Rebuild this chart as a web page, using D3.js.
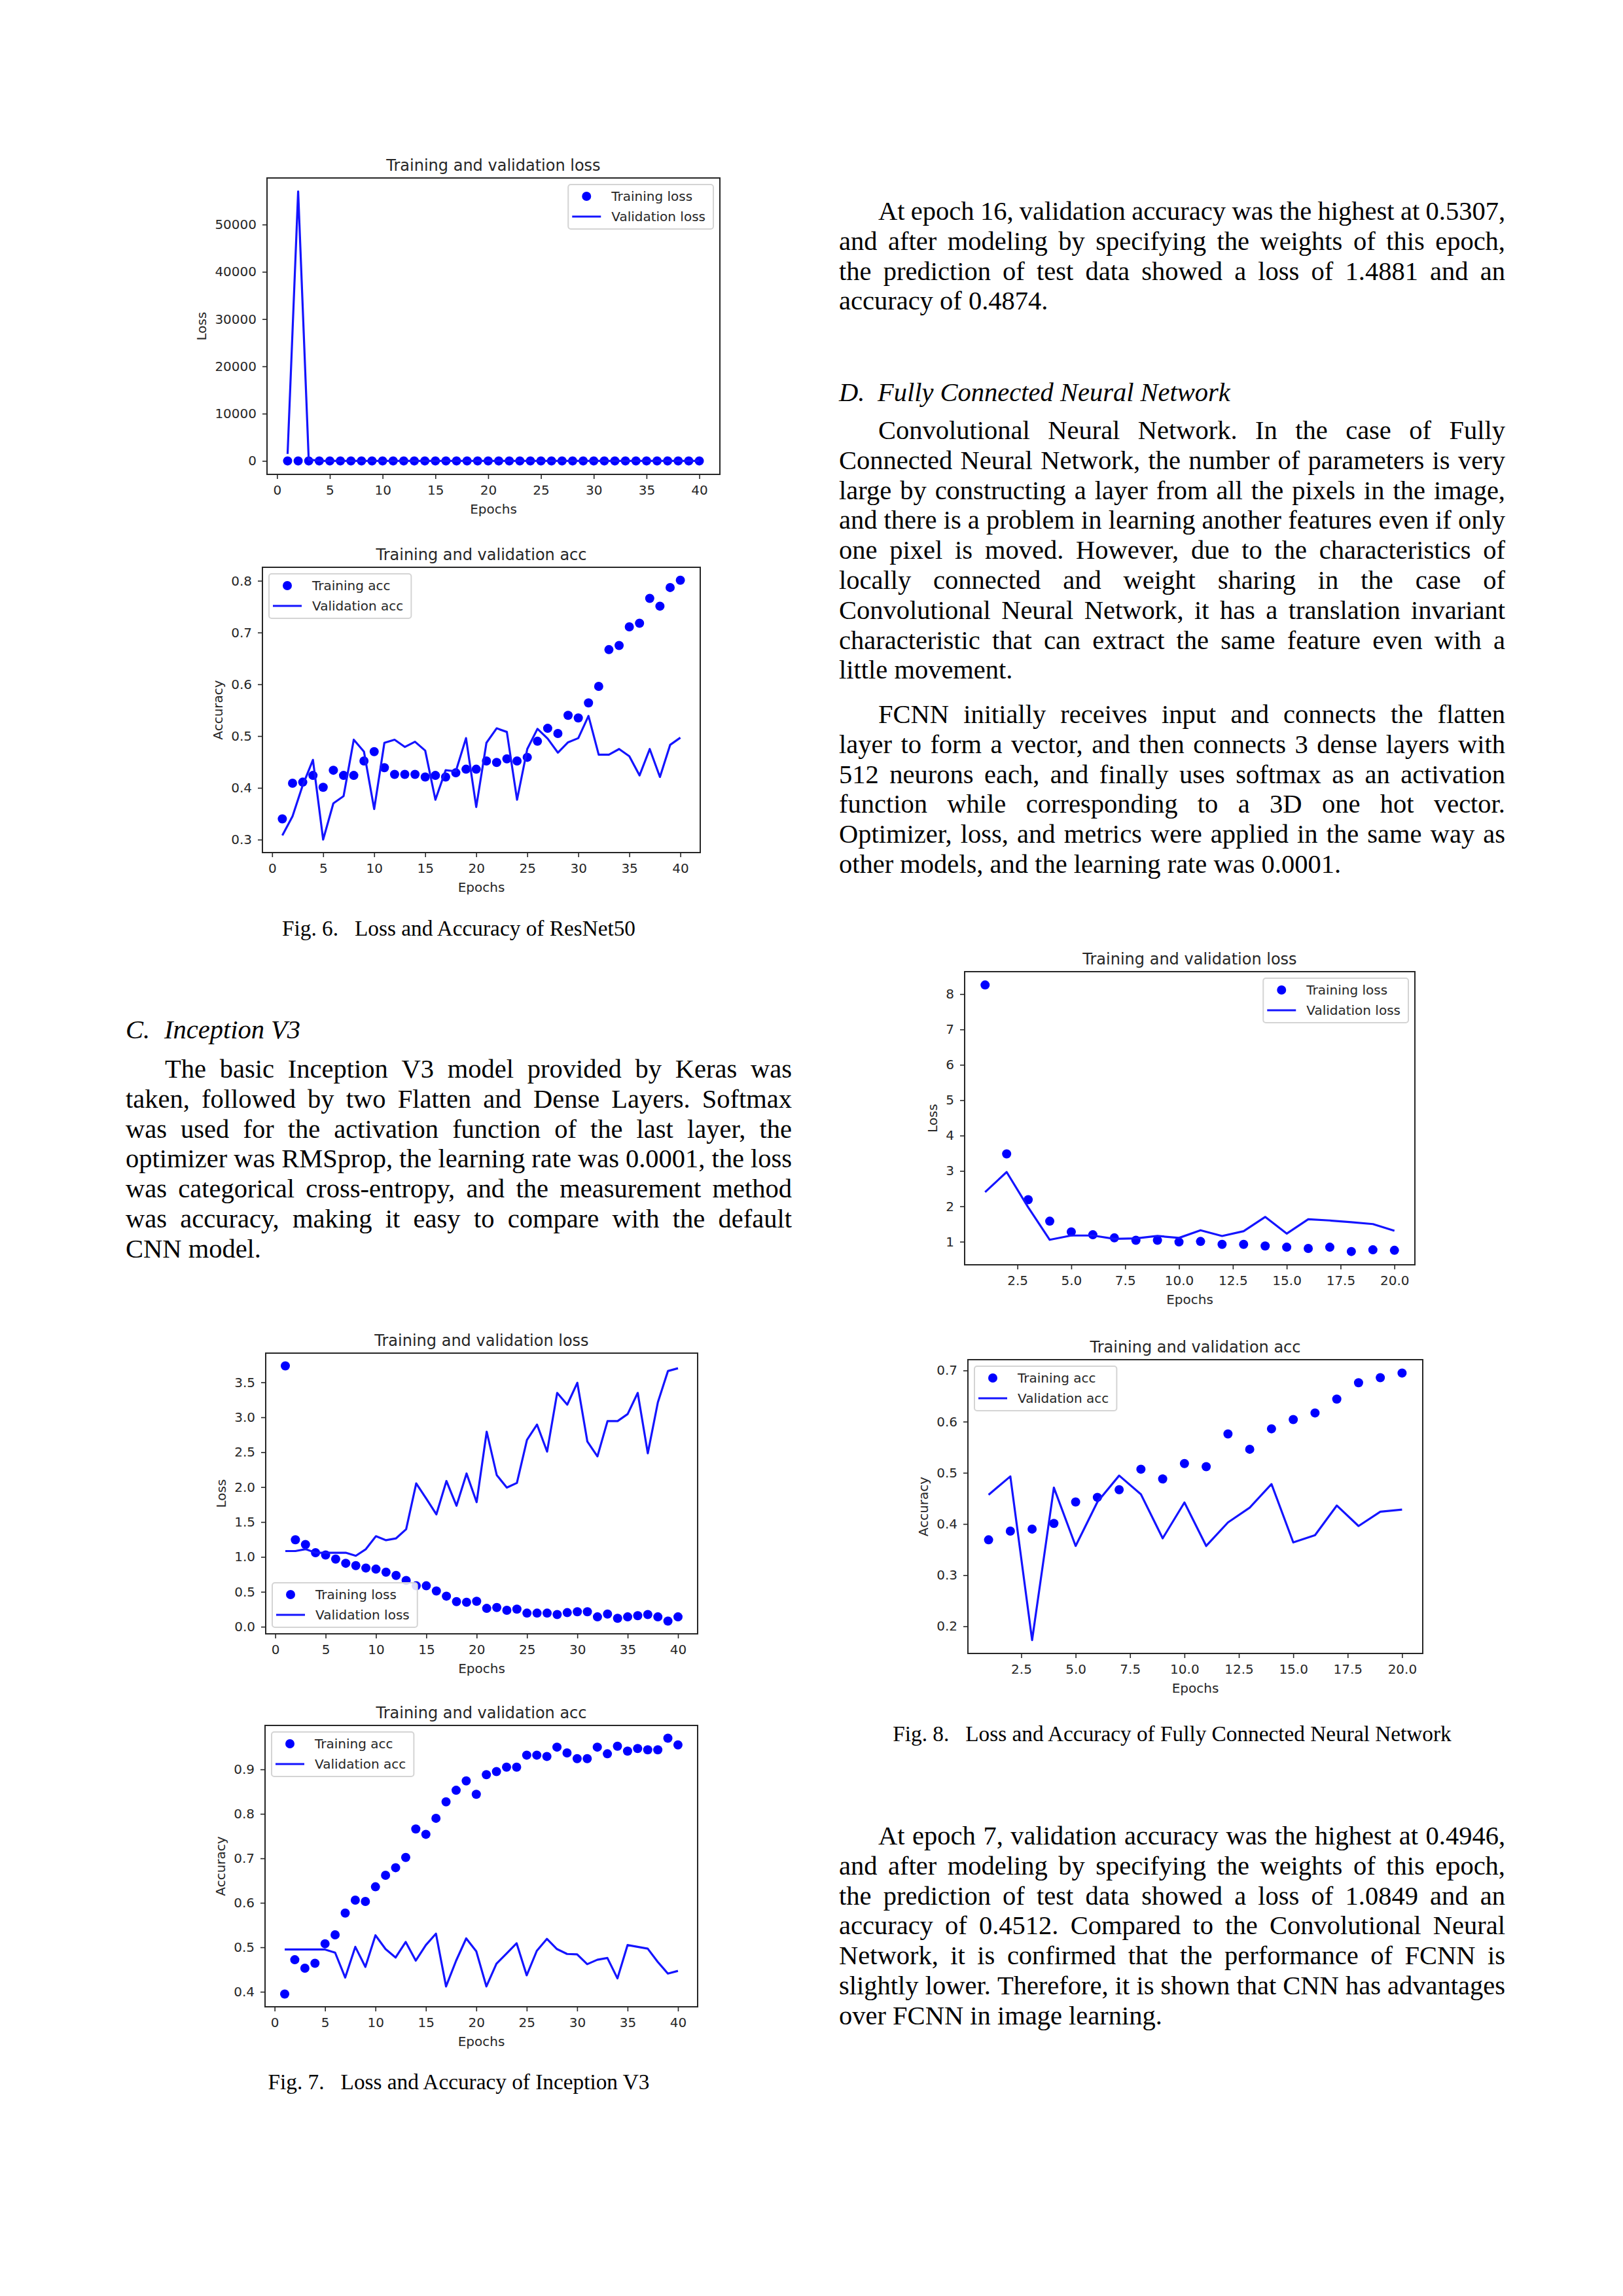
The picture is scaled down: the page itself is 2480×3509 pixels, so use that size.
<!DOCTYPE html>
<html><head><meta charset="utf-8">
<script src="https://cdn.jsdelivr.net/npm/d3@7"></script>
<style>body{margin:0;background:#fff}</style>
</head><body>
<svg id="page" width="2480" height="3509" xmlns="http://www.w3.org/2000/svg"></svg>
<script>
// ---------------- DATA ----------------
const epochs40 = [1,2,3,4,5,6,7,8,9,10,11,12,13,14,15,16,17,18,19,20,21,22,23,24,25,26,27,28,29,30,31,32,33,34,35,36,37,38,39,40];
const epochs20 = [1,2,3,4,5,6,7,8,9,10,11,12,13,14,15,16,17,18,19,20];

// Fig. 6 ResNet50
const resnetLossTrain = [1.52,1.21,1.12,1.09,1.07,1.06,1.05,1.05,1.04,1.03,1.04,1.03,1.03,1.02,1.02,1.01,1.02,1.01,1.00,1.00,0.99,0.99,0.98,0.98,0.97,0.96,0.95,0.94,0.93,0.91,0.89,0.86,0.80,0.78,0.74,0.71,0.66,0.65,0.60,0.56];
const resnetLossVal = [1480,57000,310,1.45,1.31,1.62,1.28,1.12,1.20,1.70,1.10,1.08,1.11,1.09,1.13,1.52,1.18,1.20,1.09,1.65,1.11,1.05,1.07,1.60,1.10,1.04,1.07,1.12,1.08,1.06,1.02,1.15,1.17,1.16,1.22,1.30,1.25,1.40,1.28,1.26];
const resnetAccTrain = [0.340,0.409,0.411,0.424,0.401,0.434,0.424,0.424,0.452,0.470,0.439,0.426,0.426,0.426,0.421,0.424,0.421,0.429,0.436,0.436,0.452,0.449,0.456,0.452,0.459,0.490,0.515,0.505,0.540,0.535,0.564,0.596,0.667,0.675,0.711,0.718,0.766,0.751,0.787,0.801];
const resnetAccVal = [0.308,0.345,0.405,0.454,0.300,0.370,0.384,0.493,0.470,0.359,0.487,0.493,0.479,0.489,0.472,0.377,0.434,0.432,0.496,0.363,0.487,0.515,0.508,0.377,0.475,0.514,0.495,0.468,0.488,0.496,0.539,0.464,0.464,0.475,0.461,0.424,0.475,0.421,0.483,0.497];

// Fig. 7 Inception V3
const inceptionLossTrain = [3.736,1.245,1.178,1.060,1.027,0.969,0.909,0.875,0.841,0.825,0.781,0.734,0.663,0.586,0.586,0.512,0.438,0.360,0.350,0.364,0.263,0.276,0.236,0.252,0.195,0.195,0.195,0.175,0.202,0.215,0.215,0.141,0.182,0.121,0.141,0.158,0.175,0.141,0.081,0.141];
const inceptionLossVal = [1.084,1.084,1.111,1.060,1.060,1.060,1.060,1.016,1.111,1.296,1.239,1.266,1.397,2.053,1.834,1.609,2.087,1.733,2.195,1.784,2.794,2.171,1.993,2.060,2.676,2.895,2.508,3.349,3.181,3.494,2.652,2.440,2.945,2.945,3.046,3.349,2.484,3.214,3.662,3.702];
const inceptionAccTrain = [0.395,0.472,0.453,0.464,0.508,0.528,0.577,0.606,0.603,0.636,0.662,0.679,0.702,0.766,0.754,0.790,0.827,0.853,0.874,0.844,0.888,0.895,0.905,0.905,0.932,0.932,0.929,0.950,0.937,0.924,0.924,0.950,0.935,0.952,0.941,0.947,0.944,0.944,0.970,0.955];
const inceptionAccVal = [0.495,0.495,0.495,0.495,0.495,0.488,0.432,0.501,0.456,0.527,0.496,0.477,0.512,0.470,0.505,0.5307,0.412,0.470,0.520,0.491,0.412,0.463,0.486,0.509,0.437,0.492,0.519,0.496,0.485,0.484,0.462,0.472,0.476,0.430,0.505,0.501,0.497,0.467,0.441,0.447];

// Fig. 8 FCNN
const fcnnLossTrain = [8.256,3.481,2.187,1.580,1.276,1.196,1.108,1.040,1.040,0.993,1.007,0.926,0.926,0.879,0.845,0.811,0.845,0.724,0.771,0.757];
const fcnnLossVal = [2.403,2.969,1.971,1.054,1.175,1.175,1.081,1.094,1.162,1.108,1.324,1.162,1.297,1.701,1.229,1.634,1.600,1.553,1.499,1.310];
const fcnnAccTrain = [0.369,0.386,0.390,0.401,0.443,0.452,0.467,0.507,0.488,0.518,0.512,0.576,0.546,0.586,0.604,0.617,0.644,0.676,0.686,0.695];
const fcnnAccVal = [0.457,0.493,0.173,0.471,0.357,0.443,0.4946,0.458,0.372,0.442,0.357,0.403,0.432,0.478,0.364,0.378,0.436,0.396,0.424,0.428];

// Tick labels
const xTicks40 = [0,5,10,15,20,25,30,35,40];
const xTicks20 = [2.5,5.0,7.5,10.0,12.5,15.0,17.5,20.0];
const yTicksResnetLoss = [0,10000,20000,30000,40000,50000];
const yTicksResnetAcc = [0.3,0.4,0.5,0.6,0.7,0.8];
const yTicksInceptionLoss = [0.0,0.5,1.0,1.5,2.0,2.5,3.0,3.5];
const yTicksInceptionAcc = [0.4,0.5,0.6,0.7,0.8,0.9];
const yTicksFcnnLoss = [1,2,3,4,5,6,7,8];
const yTicksFcnnAcc = [0.2,0.3,0.4,0.5,0.6,0.7];

const lossLabels = ["Training loss","Validation loss"];
const accLabels = ["Training acc","Validation acc"];

// ---------------- TEXT ----------------
const paraResnetResult = [
 "At epoch 16, validation accuracy was the highest at 0.5307,",
 "and after modeling by specifying the weights of this epoch,",
 "the prediction of test data showed a loss of 1.4881 and an",
 "accuracy of 0.4874."];
const paraFcnn1 = [
 "Convolutional Neural Network. In the case of Fully",
 "Connected Neural Network, the number of parameters is very",
 "large by constructing a layer from all the pixels in the image,",
 "and there is a problem in learning another features even if only",
 "one pixel is moved. However, due to the characteristics of",
 "locally connected and weight sharing in the case of",
 "Convolutional Neural Network, it has a translation invariant",
 "characteristic that can extract the same feature even with a",
 "little movement."];
const paraFcnn2 = [
 "FCNN initially receives input and connects the flatten",
 "layer to form a vector, and then connects 3 dense layers with",
 "512 neurons each, and finally uses softmax as an activation",
 "function while corresponding to a 3D one hot vector.",
 "Optimizer, loss, and metrics were applied in the same way as",
 "other models, and the learning rate was 0.0001."];
const paraInception = [
 "The basic Inception V3 model provided by Keras was",
 "taken, followed by two Flatten and Dense Layers. Softmax",
 "was used for the activation function of the last layer, the",
 "optimizer was RMSprop, the learning rate was 0.0001, the loss",
 "was categorical cross-entropy, and the measurement method",
 "was accuracy, making it easy to compare with the default",
 "CNN model."];
const paraFcnnResult = [
 "At epoch 7, validation accuracy was the highest at 0.4946,",
 "and after modeling by specifying the weights of this epoch,",
 "the prediction of test data showed a loss of 1.0849 and an",
 "accuracy of 0.4512. Compared to the Convolutional Neural",
 "Network, it is confirmed that the performance of FCNN is",
 "slightly lower. Therefore, it is shown that CNN has advantages",
 "over FCNN in image learning."];

// ---------------- DRAW ----------------
const svg = d3.select("#page");
svg.append("rect").attr("width",2480).attr("height",3509).attr("fill","#fff");

const SERIF = "'Liberation Serif','Times New Roman',serif";
const SANS = "'DejaVu Sans',sans-serif";
const BODY = 40.5;

function measure(str, font, size, italic) {
  const t = svg.append("text").attr("font-family", font).attr("font-size", size)
    .attr("font-style", italic ? "italic" : "normal").text(str);
  const w = t.node().getComputedTextLength();
  t.remove();
  return w;
}

function paragraph(lines, x, width, indent, y0, lh) {
  const spaceW = measure("a a", SERIF, BODY) - measure("aa", SERIF, BODY);
  lines.forEach((line, i) => {
    const isLast = i === lines.length - 1;
    const lx = x + (i === 0 ? indent : 0);
    const w = width - (i === 0 ? indent : 0);
    const words = line.split(" ");
    const t = svg.append("text").attr("font-family", SERIF).attr("font-size", BODY)
      .attr("fill", "#000").attr("y", y0 + i * lh);
    const spans = words.map(wd => t.append("tspan").text(wd));
    const widths = spans.map(s => s.node().getComputedTextLength());
    const total = d3.sum(widths);
    const gap = (isLast || words.length < 2) ? spaceW : (w - total) / (words.length - 1);
    let cx = lx;
    spans.forEach((s, k) => { s.attr("x", cx); cx += widths[k] + gap; });
  });
}

function heading(label, title, x, y) {
  svg.append("text").attr("x", x).attr("y", y).attr("font-family", SERIF)
    .attr("font-size", BODY).attr("font-style", "italic").text(label);
  svg.append("text").attr("x", x + 59).attr("y", y).attr("font-family", SERIF)
    .attr("font-size", BODY).attr("font-style", "italic").text(title);
}

function caption(txt, cx, y) {
  svg.append("text").attr("x", cx).attr("y", y).attr("text-anchor", "middle")
    .attr("font-family", SERIF).attr("font-size", 33.3).attr("fill", "#000")
    .attr("xml:space", "preserve").text(txt);
}

function chart(cfg) {
  const {x0, x1, y0, y1, epochs, train, val, title, ylabel, xticks, yticks, xfmt, yfmt, legend, labels} = cfg;
  const g = svg.append("g");
  const emin = d3.min(epochs), emax = d3.max(epochs), es = emax - emin;
  const all = train.concat(val);
  const vmin = d3.min(all), vmax = d3.max(all), vr = vmax - vmin;
  const xs = d3.scaleLinear().domain([emin - 0.05 * es, emax + 0.05 * es]).range([x0, x1]);
  const ys = d3.scaleLinear().domain([vmin - 0.05 * vr, vmax + 0.05 * vr]).range([y1, y0]);

  // training dots
  g.append("g").selectAll("circle").data(epochs).join("circle")
    .attr("cx", (d) => xs(d)).attr("cy", (d, i) => ys(train[i])).attr("r", 7).attr("fill", "#0000ff");
  // validation line
  g.append("path").datum(epochs)
    .attr("d", d3.line().x(d => xs(d)).y((d, i) => ys(val[i])))
    .attr("fill", "none").attr("stroke", "#1414ff").attr("stroke-width", 3.2)
    .attr("stroke-linejoin", "round");

  // frame
  g.append("rect").attr("x", x0).attr("y", y0).attr("width", x1 - x0).attr("height", y1 - y0)
    .attr("fill", "none").attr("stroke", "#262626").attr("stroke-width", 2);

  const xa = g.append("g").attr("transform", `translate(0,${y1})`)
    .call(d3.axisBottom(xs).tickValues(xticks).tickFormat(xfmt).tickSize(7).tickPadding(10));
  const ya = g.append("g").attr("transform", `translate(${x0},0)`)
    .call(d3.axisLeft(ys).tickValues(yticks).tickFormat(yfmt).tickSize(7).tickPadding(9));
  [xa, ya].forEach(a => {
    a.select(".domain").remove();
    a.selectAll("line").attr("stroke", "#262626").attr("stroke-width", 1.6);
    a.selectAll("text").attr("font-family", SANS).attr("font-size", 20).attr("fill", "#262626");
  });

  // title & labels
  g.append("text").attr("x", (x0 + x1) / 2).attr("y", y0 - 11).attr("text-anchor", "middle")
    .attr("font-family", SANS).attr("font-size", 24).attr("fill", "#262626").text(title);
  g.append("text").attr("x", (x0 + x1) / 2).attr("y", y1 + 60).attr("text-anchor", "middle")
    .attr("font-family", SANS).attr("font-size", 20).attr("fill", "#262626").text("Epochs");
  const bb = ya.node().getBBox();
  const lx = x0 + bb.x - 13;
  g.append("text").attr("transform", `translate(${lx},${(y0 + y1) / 2}) rotate(-90)`)
    .attr("text-anchor", "middle").attr("font-family", SANS).attr("font-size", 20)
    .attr("fill", "#262626").text(ylabel);

  // legend
  const tw = d3.max(labels, l => measure(l, SANS, 20));
  const bw = 66 + tw + 12, bh = 68;
  let bx, by;
  if (legend === "ur") { bx = x1 - 10 - bw; by = y0 + 10; }
  else if (legend === "ul") { bx = x0 + 10; by = y0 + 10; }
  else { bx = x0 + 10; by = y1 - 10 - bh; }
  const lg = g.append("g");
  lg.append("rect").attr("x", bx).attr("y", by).attr("width", bw).attr("height", bh).attr("rx", 4)
    .attr("fill", "#fff").attr("fill-opacity", 0.85).attr("stroke", "#d4d4d4").attr("stroke-width", 2);
  lg.append("circle").attr("cx", bx + 28).attr("cy", by + 18).attr("r", 7).attr("fill", "#0000ff");
  lg.append("line").attr("x1", bx + 6).attr("x2", bx + 50).attr("y1", by + 49).attr("y2", by + 49)
    .attr("stroke", "#1414ff").attr("stroke-width", 3.2);
  lg.append("text").attr("x", bx + 66).attr("y", by + 25).attr("font-family", SANS).attr("font-size", 20)
    .attr("fill", "#262626").text(labels[0]);
  lg.append("text").attr("x", bx + 66).attr("y", by + 56).attr("font-family", SANS).attr("font-size", 20)
    .attr("fill", "#262626").text(labels[1]);
}

const fInt = d3.format("d"), f1 = d3.format(".1f");

chart({x0:408, x1:1100, y0:272, y1:725, epochs:epochs40, train:resnetLossTrain, val:resnetLossVal,
  title:"Training and validation loss", ylabel:"Loss", xticks:xTicks40, yticks:yTicksResnetLoss,
  xfmt:fInt, yfmt:fInt, legend:"ur", labels:lossLabels});
chart({x0:401, x1:1070, y0:867, y1:1303, epochs:epochs40, train:resnetAccTrain, val:resnetAccVal,
  title:"Training and validation acc", ylabel:"Accuracy", xticks:xTicks40, yticks:yTicksResnetAcc,
  xfmt:fInt, yfmt:f1, legend:"ul", labels:accLabels});
chart({x0:406, x1:1066, y0:2068, y1:2497, epochs:epochs40, train:inceptionLossTrain, val:inceptionLossVal,
  title:"Training and validation loss", ylabel:"Loss", xticks:xTicks40, yticks:yTicksInceptionLoss,
  xfmt:fInt, yfmt:f1, legend:"ll", labels:lossLabels});
chart({x0:405, x1:1066, y0:2637, y1:3067, epochs:epochs40, train:inceptionAccTrain, val:inceptionAccVal,
  title:"Training and validation acc", ylabel:"Accuracy", xticks:xTicks40, yticks:yTicksInceptionAcc,
  xfmt:fInt, yfmt:f1, legend:"ul", labels:accLabels});
chart({x0:1474, x1:2162, y0:1485, y1:1933, epochs:epochs20, train:fcnnLossTrain, val:fcnnLossVal,
  title:"Training and validation loss", ylabel:"Loss", xticks:xTicks20, yticks:yTicksFcnnLoss,
  xfmt:f1, yfmt:fInt, legend:"ur", labels:lossLabels});
chart({x0:1479, x1:2174, y0:2078, y1:2527, epochs:epochs20, train:fcnnAccTrain, val:fcnnAccVal,
  title:"Training and validation acc", ylabel:"Accuracy", xticks:xTicks20, yticks:yTicksFcnnAcc,
  xfmt:f1, yfmt:f1, legend:"ul", labels:accLabels});

// Text blocks
const LC = 192, RC = 1282, CW = 1018, LH = 45.8, IND = 60;
paragraph(paraResnetResult, RC, CW, IND, 336, LH);
heading("D.", "Fully Connected Neural Network", RC, 613);
paragraph(paraFcnn1, RC, CW, IND, 671, LH);
paragraph(paraFcnn2, RC, CW, IND, 1105, LH);
caption("Fig. 6.\u00a0\u00a0\u00a0Loss and Accuracy of ResNet50", LC + CW / 2, 1430);
heading("C.", "Inception V3", LC, 1587);
paragraph(paraInception, LC, CW, IND, 1647, LH);
caption("Fig. 8.\u00a0\u00a0\u00a0Loss and Accuracy of Fully Connected Neural Network", RC + CW / 2, 2661);
paragraph(paraFcnnResult, RC, CW, IND, 2819, LH);
caption("Fig. 7.\u00a0\u00a0\u00a0Loss and Accuracy of Inception V3", LC + CW / 2, 3193);
</script>
</body></html>
